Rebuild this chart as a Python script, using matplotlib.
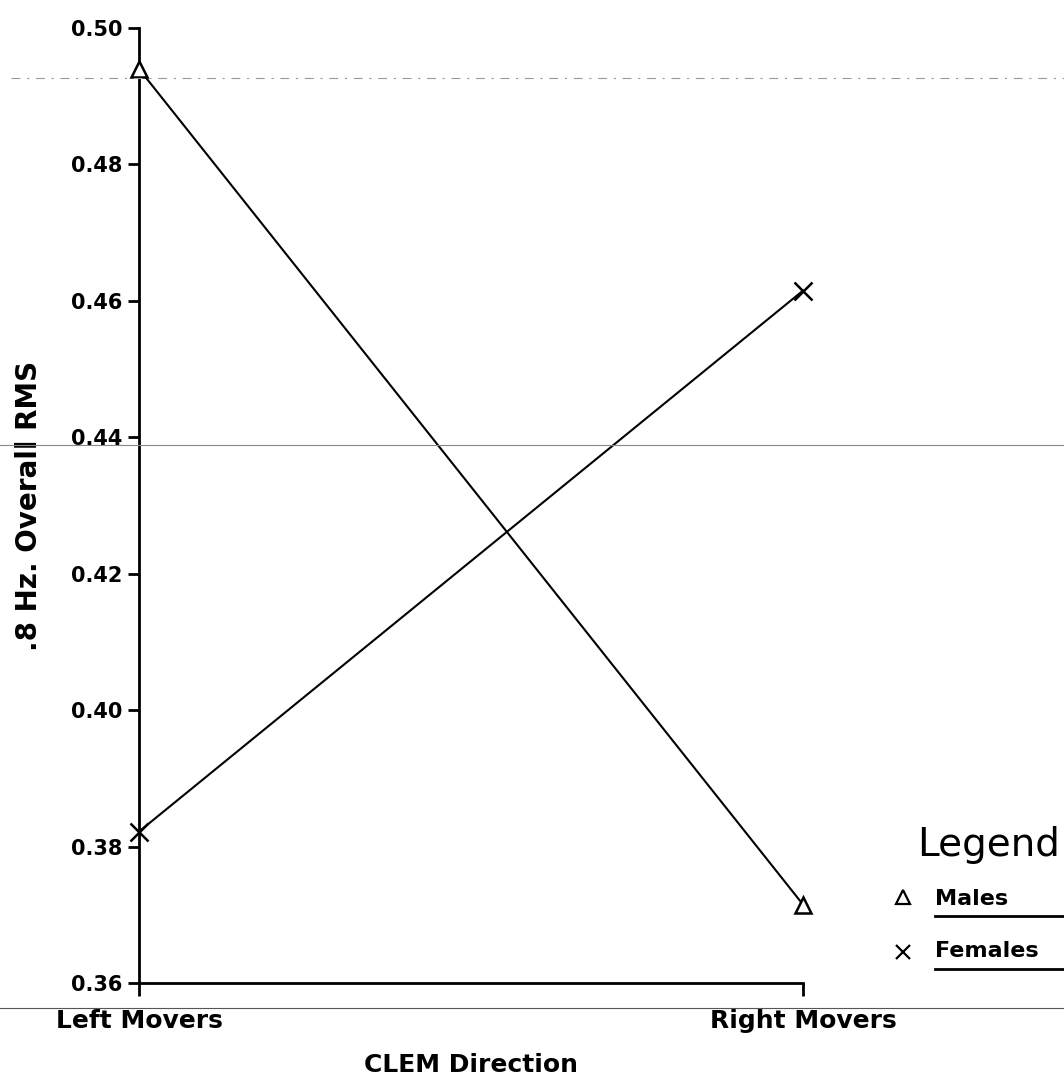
import matplotlib
matplotlib.use("Agg")
import matplotlib.pyplot as plt
from matplotlib.lines import Line2D

# Data
categories = ["Left Movers", "Right Movers"]
males = [0.494, 0.3715]
females = [0.3822, 0.4615]
yticks = [0.36, 0.38, 0.40, 0.42, 0.44, 0.46, 0.48, 0.50]
ytick_labels = ["0.36", "0.38", "0.40", "0.42", "0.44", "0.46", "0.48", "0.50"]
series_names = ["Males", "Females"]

W, H = 1064, 1083
fig = plt.figure(figsize=(W / 100, H / 100), dpi=100)
fig.patch.set_facecolor("white")

left, right, top, bottom = 139, 803, 28, 983
ax = fig.add_axes([left / W, 1 - bottom / H, (right - left) / W, (bottom - top) / H])

x = list(range(len(categories)))
ax.plot(x, males, color="black", lw=1.5, marker="^", markersize=12,
        markerfacecolor="white", markeredgecolor="black", markeredgewidth=1.8,
        clip_on=False, zorder=3)
ax.plot(x, females, color="black", lw=1.5, marker="x", markersize=13,
        markeredgewidth=1.8, clip_on=False, zorder=3)

ax.set_xlim(0, 1)
ax.set_ylim(0.36, 0.50)
ax.set_yticks(yticks)
ax.set_yticklabels(ytick_labels, fontsize=15, fontweight="bold")
ax.set_xticks(x)
ax.set_xticklabels(categories, fontsize=18, fontweight="bold")

for s in ["top", "right"]:
    ax.spines[s].set_visible(False)
for s in ["left", "bottom"]:
    ax.spines[s].set_linewidth(2)
ax.tick_params(axis="y", direction="out", length=8, width=2, pad=4)
ax.tick_params(axis="x", direction="out", length=9, width=2, pad=10)

ax.set_xlabel("CLEM Direction", fontsize=18, fontweight="bold", labelpad=14)
ax.set_ylabel(".8 Hz. Overall RMS", fontsize=20, fontweight="bold", labelpad=20)

# Legend (hand-placed as in the original)
fig.text(917 / W, 1 - 845 / H, "Legend", fontsize=28, va="center", ha="left")
fig.add_artist(Line2D([903 / W], [1 - 897 / H], marker="^", markersize=10,
                      markerfacecolor="white", markeredgecolor="black",
                      markeredgewidth=1.6, linestyle="none"))
fig.add_artist(Line2D([903 / W], [1 - 952 / H], marker="x", markersize=10,
                      markeredgecolor="black", markeredgewidth=1.6, linestyle="none"))
fig.text(935 / W, 1 - 899 / H, series_names[0], fontsize=16, fontweight="bold",
         va="center", ha="left")
fig.text(935 / W, 1 - 951 / H, series_names[1], fontsize=16, fontweight="bold",
         va="center", ha="left")
fig.add_artist(Line2D([935 / W, 1.0], [1 - 916 / H] * 2, color="black", lw=2))
fig.add_artist(Line2D([935 / W, 1.0], [1 - 969 / H] * 2, color="black", lw=2))

# Faint scan lines
fig.add_artist(Line2D([0, 1], [1 - 445 / H] * 2, color="#888888", lw=0.8))
fig.add_artist(Line2D([0, 1], [1 - 1008 / H] * 2, color="#555555", lw=0.8))
fig.add_artist(Line2D([0.01, 1], [1 - 78 / H] * 2, color="#999999", lw=0.8,
                      linestyle=(0, (8, 6, 2, 6))))

fig.savefig("out.png", dpi=100, facecolor="white")
